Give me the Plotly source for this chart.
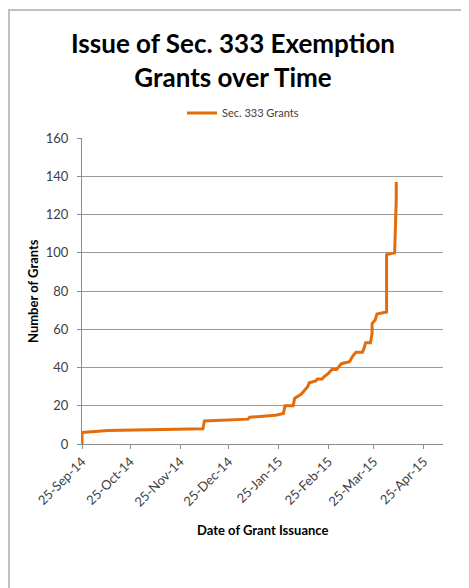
import plotly.graph_objects as go

# cumulative Sec. 333 grants
grant_dates = [
    "2014-09-25", "2014-09-25", "2014-10-11", "2014-12-09", "2014-12-10",
    "2015-01-06", "2015-01-07", "2015-01-23", "2015-01-28", "2015-01-29",
    "2015-02-03", "2015-02-04", "2015-02-08", "2015-02-09", "2015-02-11",
    "2015-02-12", "2015-02-13", "2015-02-17", "2015-02-18", "2015-02-21",
    "2015-02-22", "2015-02-25", "2015-02-27", "2015-03-02", "2015-03-04",
    "2015-03-05", "2015-03-10", "2015-03-12", "2015-03-14", "2015-03-18",
    "2015-03-19", "2015-03-20", "2015-03-23", "2015-03-24", "2015-03-24",
    "2015-03-26", "2015-03-27", "2015-04-02", "2015-04-02", "2015-04-07",
    "2015-04-08", "2015-04-08",
]
grant_counts = [
    0, 6, 7, 8, 12,
    13, 14, 15, 16, 20,
    20, 24, 26, 27, 29,
    30, 32, 33, 34, 34,
    35, 37, 39, 39, 41,
    42, 43, 46, 48, 48,
    50, 53, 53, 58, 63,
    65, 68, 69, 99, 100,
    128, 137,
]

orange = "#E46C0A"
font = "Lato"

# page sits 8px in from the window edge (body margin)
OFF = 8
W, H = 469, 588
# plot area in window pixels: x 82..443, y 138..444
PL, PR, PT, PB = 82 - OFF, 443 - OFF, 138 - OFF, 444 - OFF
def px(x):
    return (x - OFF - PL) / (PR - PL)
def py(y):
    return (PB - (y - OFF)) / (PB - PT)

fig = go.Figure()
fig.add_trace(go.Scatter(
    x=grant_dates, y=grant_counts, mode="lines", name="Sec. 333 Grants",
    line=dict(color=orange, width=3),
))

fig.update_layout(
    width=W, height=H, template="none",
    margin=dict(l=PL, r=W - PR, t=PT, b=H - PB),
    paper_bgcolor="white", plot_bgcolor="white",
    font=dict(family=font, color="#404040"),
    showlegend=True,
    legend=dict(
        orientation="h", x=px(243), xanchor="center",
        y=py(113), yanchor="middle",
        font=dict(family=font, size=11, color="#404040"),
        bgcolor="rgba(0,0,0,0)",
    ),
    xaxis=dict(
        type="date", range=["2014-09-25", "2015-05-07"], automargin=False,
        tick0="2014-09-25", dtick="M1", tickformat="%d-%b-%y",
        tickangle=-45, tickfont=dict(family=font, size=13, color="#404040"),
        showgrid=False, showline=True, linecolor="#8c8c8c", linewidth=1,
        ticks="outside", ticklen=4, tickcolor="#8c8c8c",
        zeroline=False,
    ),
    yaxis=dict(
        range=[0, 160], dtick=20, automargin=False,
        tickfont=dict(family=font, size=13, color="#404040"),
        ticklabelstandoff=6,
        showgrid=True, gridcolor="#9a9a9a", gridwidth=1,
        showline=True, linecolor="#8c8c8c", linewidth=1,
        ticks="outside", ticklen=4, tickcolor="#8c8c8c",
        zeroline=False,
    ),
    annotations=[
        dict(text="<b>Issue of Sec. 333 Exemption<br>Grants over Time</b>",
             xref="paper", yref="paper", x=px(233), y=py(60),
             xanchor="center", yanchor="middle", showarrow=False,
             font=dict(family=font, size=26, color="black")),
        dict(text="<b>Number of Grants</b>", xref="paper", yref="paper",
             x=px(33), y=py(291), xanchor="center", yanchor="middle",
             textangle=-90, showarrow=False,
             font=dict(family=font, size=13, color="black")),
        dict(text="<b>Date of Grant Issuance</b>", xref="paper", yref="paper",
             x=px(262), y=py(530), xanchor="center", yanchor="middle",
             showarrow=False,
             font=dict(family=font, size=13, color="black")),
    ],
    shapes=[
        dict(type="line", xref="paper", yref="paper",
             x0=px(9), x1=px(9), y0=py(600), y1=py(10),
             line=dict(color="#bfbfbf", width=2)),
        dict(type="line", xref="paper", yref="paper",
             x0=px(8), x1=px(480), y0=py(10), y1=py(10),
             line=dict(color="#bfbfbf", width=2)),
    ],
)

fig.write_html("out.html")
